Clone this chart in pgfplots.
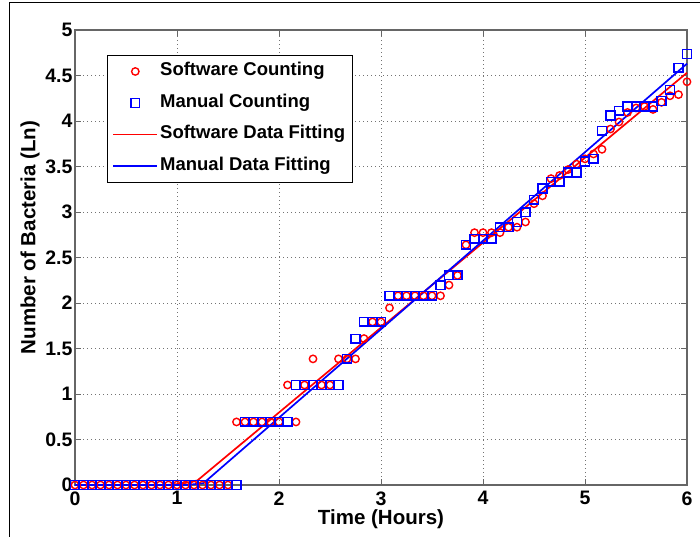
\documentclass[border=0pt]{standalone}
\usepackage{pgfplots}
\usepackage{pgfplotstable}
\pgfplotsset{compat=1.18}
\usepackage{fontspec}
\setmainfont{Liberation Sans}

\pgfplotsset{
  markleg/.style={legend image code/.code={\draw[mark repeat=2,mark phase=2,##1] plot coordinates {(0pt,0pt) (22pt,0pt) (44pt,0pt)};}},
  lineleg/.style={legend image code/.code={\draw[##1] (0pt,0pt) -- (44pt,0pt);}},
}

\pgfplotstableread{
t y
0 0
0.0833 0
0.1667 0
0.25 0
0.3333 0
0.4167 0
0.5 0
0.5833 0
0.6667 0
0.75 0
0.8333 0
0.9167 0
1 0
1.0833 0
1.1667 0
1.25 0
1.3333 0
1.4167 0
1.5 0
1.5833 0.693
1.6667 0.693
1.75 0.693
1.8333 0.693
1.9167 0.693
2 0.693
2.0833 1.099
2.1667 0.693
2.25 1.099
2.3333 1.386
2.4167 1.099
2.5 1.099
2.5833 1.386
2.6667 1.386
2.75 1.386
2.8333 1.609
2.9167 1.792
3 1.792
3.0833 1.946
3.1667 2.079
3.25 2.079
3.3333 2.079
3.4167 2.079
3.5 2.079
3.5833 2.079
3.6667 2.197
3.75 2.303
3.8333 2.639
3.9167 2.773
4 2.773
4.0833 2.773
4.1667 2.773
4.25 2.833
4.3333 2.833
4.4167 2.890
4.5 3.091
4.5833 3.178
4.6667 3.367
4.75 3.401
4.8333 3.466
4.9167 3.526
5 3.584
5.0833 3.638
5.1667 3.689
5.25 3.912
5.3333 3.989
5.4167 4.094
5.5 4.143
5.5833 4.159
5.6667 4.127
5.75 4.205
5.8333 4.277
5.9167 4.290
6 4.431
}\softwaredata

\pgfplotstableread{
t y
0 0
0.0833 0
0.1667 0
0.25 0
0.3333 0
0.4167 0
0.5 0
0.5833 0
0.6667 0
0.75 0
0.8333 0
0.9167 0
1 0
1.0833 0
1.1667 0
1.25 0
1.3333 0
1.4167 0
1.5 0
1.5833 0
1.6667 0.693
1.75 0.693
1.8333 0.693
1.9167 0.693
2 0.693
2.0833 0.693
2.1667 1.099
2.25 1.099
2.3333 1.099
2.4167 1.099
2.5 1.099
2.5833 1.099
2.6667 1.386
2.75 1.609
2.8333 1.792
2.9167 1.792
3 1.792
3.0833 2.079
3.1667 2.079
3.25 2.079
3.3333 2.079
3.4167 2.079
3.5 2.079
3.5833 2.197
3.6667 2.303
3.75 2.303
3.8333 2.639
3.9167 2.708
4 2.708
4.0833 2.708
4.1667 2.833
4.25 2.833
4.3333 2.890
4.4167 2.996
4.5 3.135
4.5833 3.258
4.6667 3.332
4.75 3.332
4.8333 3.434
4.9167 3.434
5 3.555
5.0833 3.584
5.1667 3.892
5.25 4.060
5.3333 4.111
5.4167 4.159
5.5 4.159
5.5833 4.159
5.6667 4.159
5.75 4.220
5.8333 4.344
5.9167 4.585
6 4.736
}\manualdata

\begin{document}
\begin{tikzpicture}
\useasboundingbox (-75pt,-52pt) rectangle (625pt,485pt);
\begin{axis}[
  scale only axis,
  width=612pt, height=455pt,
  xmin=0, xmax=6, ymin=0, ymax=5,
  xtick={0,1,2,3,4,5,6},
  ytick={0,0.5,1,1.5,2,2.5,3,3.5,4,4.5,5},
  clip=false,
  axis line style={black!60, line width=1.1pt},
  tick style={black!60, line width=0.9pt},
  major tick length=6pt,
  tick align=inside,
  xtick pos=both, ytick pos=both,
  grid=major,
  major grid style={black!55, line width=0.8pt, dash pattern=on 1pt off 3pt},
  /pgf/number format/assume math mode=true,
  tick label style={font=\fontsize{19.5}{22}\selectfont\bfseries},
  xticklabel style={yshift=-3pt},
  yticklabel style={xshift=1pt},
  xlabel={Time (Hours)},
  ylabel={Number of Bacteria (Ln)},
  label style={font=\fontsize{20.5}{24}\selectfont\bfseries},
  xlabel style={at={(axis description cs:0.5,0)}, anchor=center, yshift=-34pt},
  ylabel style={at={(axis description cs:0,0.5)}, anchor=center, xshift=20pt, yshift=45pt},
  legend style={
    at={(rel axis cs:0.0523,0.945)}, anchor=north west,
    draw=black, line width=0.9pt,
    font=\fontsize{18.5}{21}\selectfont\bfseries,
    inner xsep=5pt, inner ysep=6pt,
    nodes={inner sep=2pt, text height=12.5pt, text depth=3.5pt},
    row sep=11.5pt,
  },
  legend cell align=left,
]
\addplot[only marks, red, mark=o, mark size=3.7pt, line width=1.4pt, markleg]
  table[x=t,y=y] {\softwaredata};
\addlegendentry{Software Counting}
\addplot[only marks, blue, mark=square, mark size=4.3pt, line width=1.5pt, markleg]
  table[x=t,y=y] {\manualdata};
\addlegendentry{Manual Counting}
\addplot[red, line width=1.7pt, no marks, lineleg]
  coordinates {(0,0) (0.9,0) (1.05,0.015) (1.2,0.05) (6,4.53)};
\addlegendentry{Software Data Fitting}
\addplot[blue, line width=1.7pt, no marks, lineleg]
  coordinates {(0,0) (1.1,0) (1.26,0.02) (6,4.63)};
\addlegendentry{Manual Data Fitting}
\end{axis}
\draw[black, line width=1pt] (-65pt,-52pt) -- (-65pt,482pt) -- (625pt,482pt);
\end{tikzpicture}
\end{document}
